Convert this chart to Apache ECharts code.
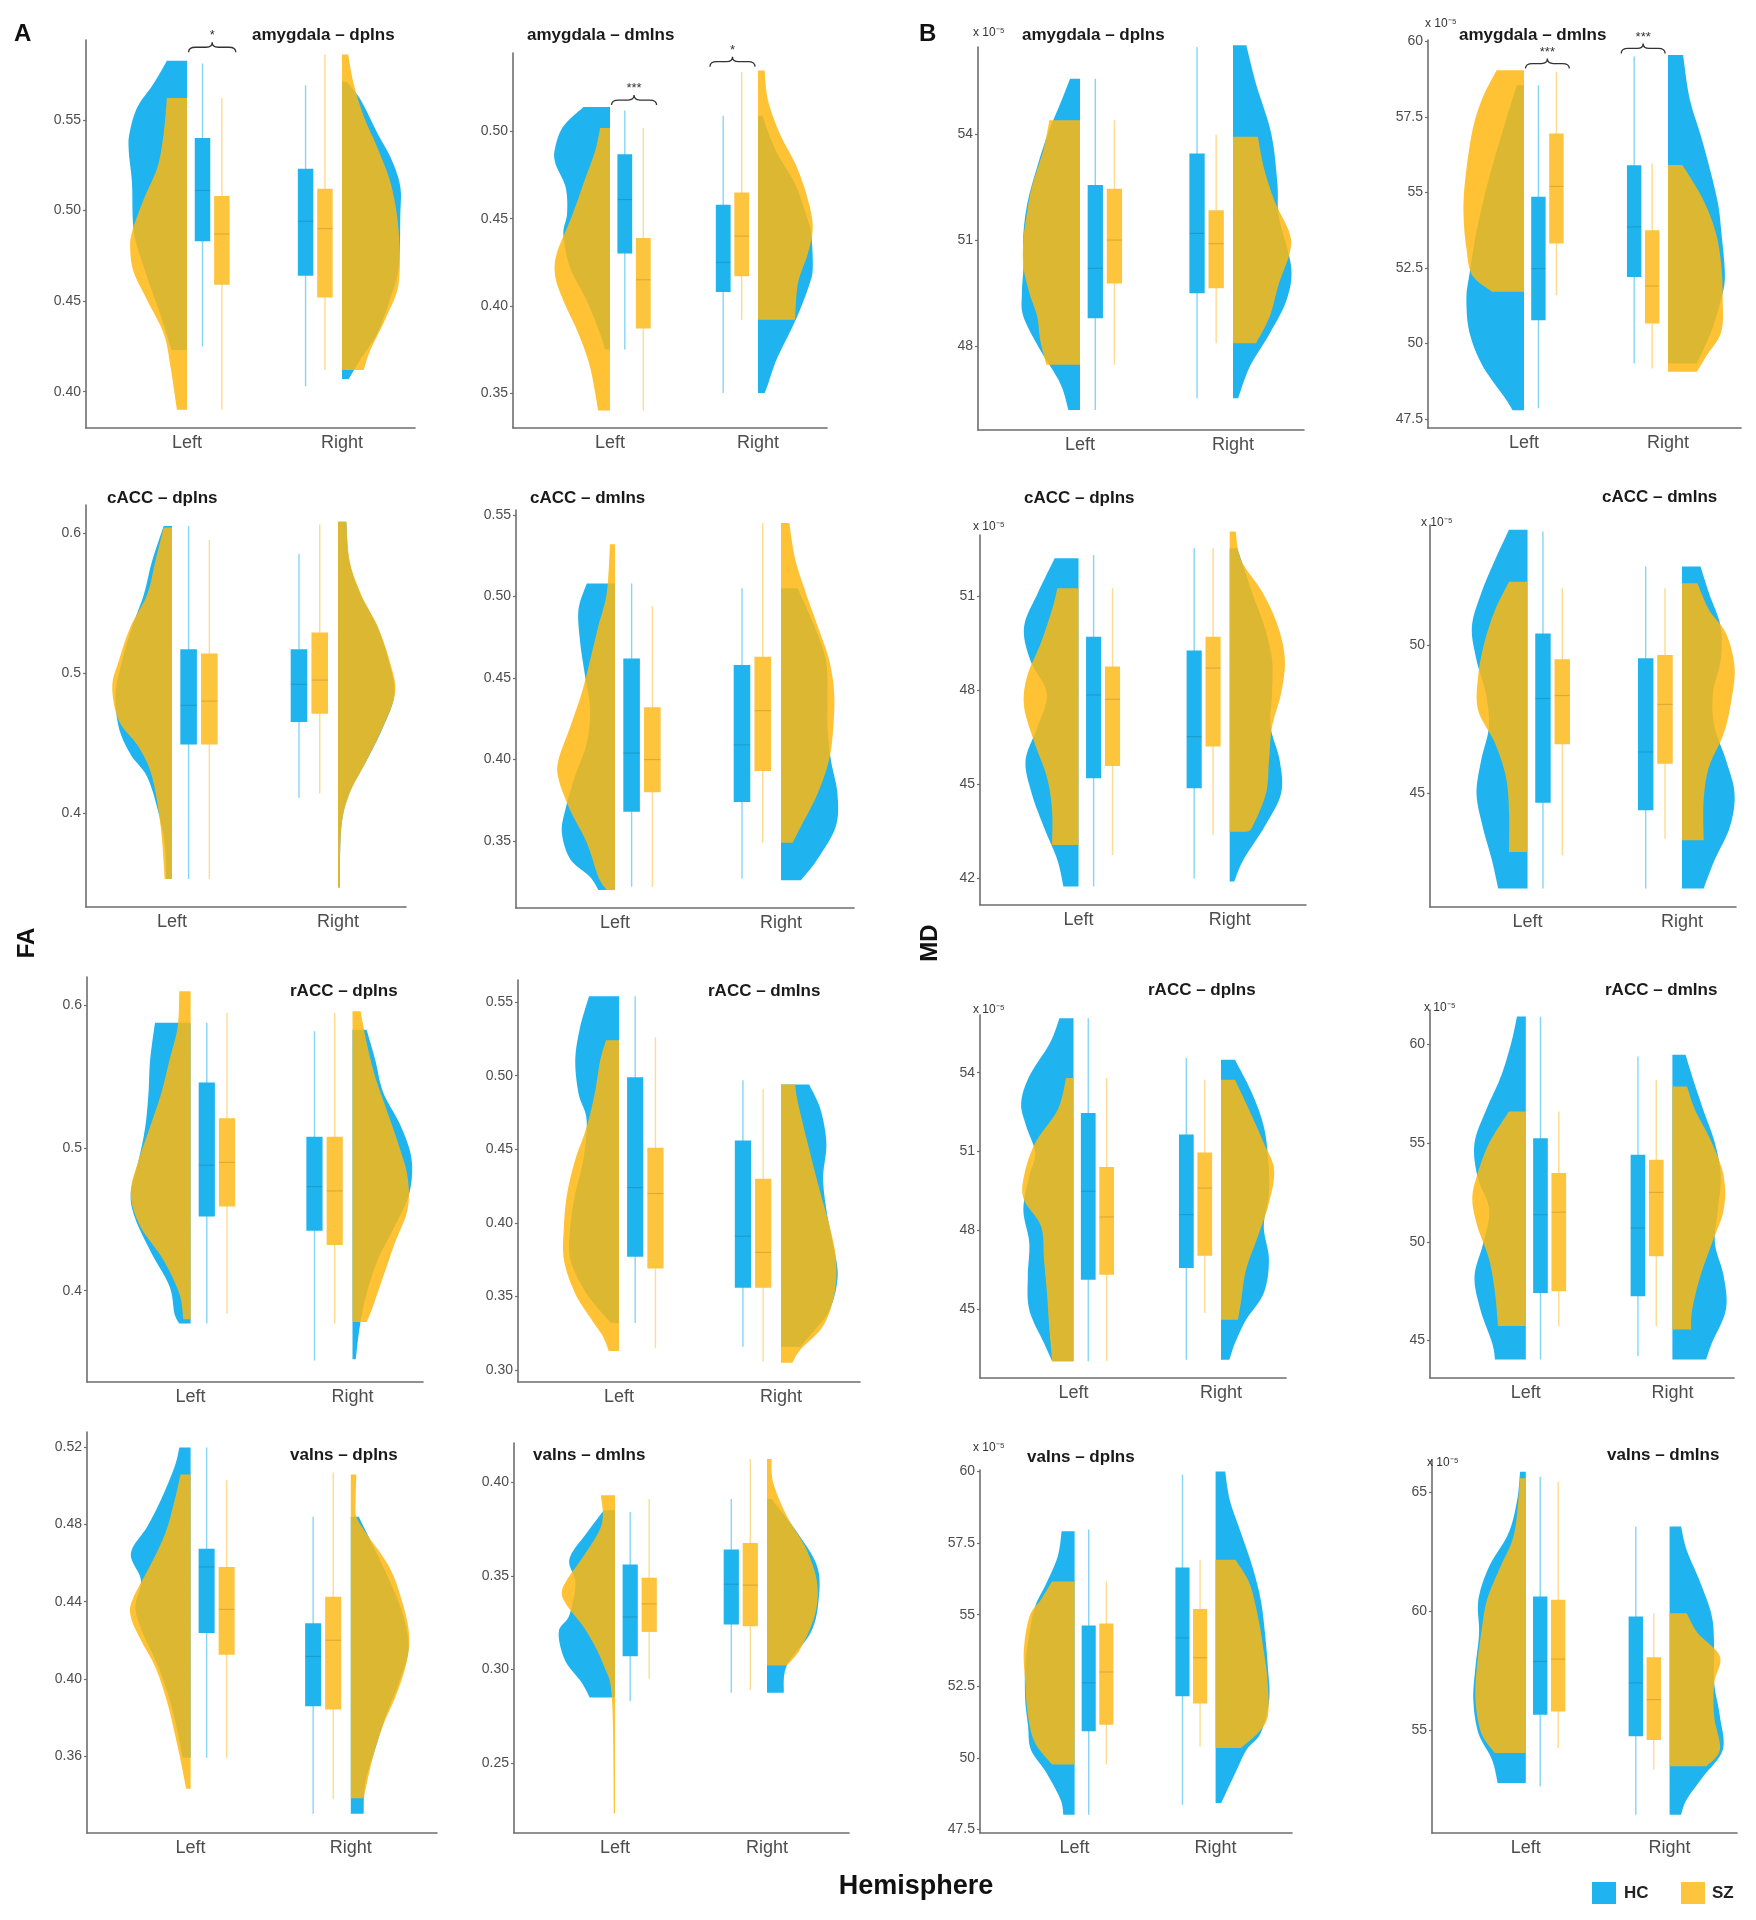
<!DOCTYPE html>
<html><head><meta charset="utf-8">
<script src="https://cdn.jsdelivr.net/npm/echarts@6/dist/echarts.min.js"></script>
<style>html,body{margin:0;padding:0;background:#fff}#chart{width:1756px;height:1920px}</style>
</head><body><div id="chart"></div>
<script>
// ---------------- DATA ----------------
const categories = ['Left', 'Right'];
const groups = ['HC', 'SZ'];
const measureLabels = ['FA', 'MD'];
const xAxisTitle = 'Hemisphere';
const mdMultiplier = 'x 10\u207B\u2075';
const panelTitles = ['amygdala – dpIns','amygdala – dmIns','amygdala – dpIns','amygdala – dmIns',
  'cACC – dpIns','cACC – dmIns','cACC – dpIns','cACC – dmIns',
  'rACC – dpIns','rACC – dmIns','rACC – dpIns','rACC – dmIns',
  'vaIns – dpIns','vaIns – dmIns','vaIns – dpIns','vaIns – dmIns'];

// y tick values / labels
const ticksFA_amyDp = [0.40,0.45,0.50,0.55];      const labelsFA_amyDp = ['0.40','0.45','0.50','0.55'];
const ticksFA_amyDm = [0.35,0.40,0.45,0.50];      const labelsFA_amyDm = ['0.35','0.40','0.45','0.50'];
const ticksMD_amyDp = [48,51,54];                 const labelsMD_amyDp = ['48','51','54'];
const ticksMD_amyDm = [47.5,50,52.5,55,57.5,60];  const labelsMD_amyDm = ['47.5','50','52.5','55','57.5','60'];
const ticksFA_cAccDp = [0.4,0.5,0.6];             const labelsFA_cAccDp = ['0.4','0.5','0.6'];
const ticksFA_cAccDm = [0.35,0.40,0.45,0.50,0.55];const labelsFA_cAccDm = ['0.35','0.40','0.45','0.50','0.55'];
const ticksMD_cAccDp = [42,45,48,51];             const labelsMD_cAccDp = ['42','45','48','51'];
const ticksMD_cAccDm = [45,50];                   const labelsMD_cAccDm = ['45','50'];
const ticksFA_rAccDp = [0.4,0.5,0.6];             const labelsFA_rAccDp = ['0.4','0.5','0.6'];
const ticksFA_rAccDm = [0.30,0.35,0.40,0.45,0.50,0.55]; const labelsFA_rAccDm = ['0.30','0.35','0.40','0.45','0.50','0.55'];
const ticksMD_rAccDp = [45,48,51,54];             const labelsMD_rAccDp = ['45','48','51','54'];
const ticksMD_rAccDm = [45,50,55,60];             const labelsMD_rAccDm = ['45','50','55','60'];
const ticksFA_vaDp = [0.36,0.40,0.44,0.48,0.52];  const labelsFA_vaDp = ['0.36','0.40','0.44','0.48','0.52'];
const ticksFA_vaDm = [0.25,0.30,0.35,0.40];       const labelsFA_vaDm = ['0.25','0.30','0.35','0.40'];
const ticksMD_vaDp = [47.5,50,52.5,55,57.5,60];   const labelsMD_vaDp = ['47.5','50','52.5','55','57.5','60'];
const ticksMD_vaDm = [55,60,65];                  const labelsMD_vaDm = ['55','60','65'];

// box stats [min, q1, median, q3, max]; order: Left-HC, Left-SZ, Right-HC, Right-SZ
const boxFA_amyDp = [[0.425,0.483,0.511,0.540,0.581],[0.390,0.459,0.487,0.508,0.562],[0.403,0.464,0.494,0.523,0.569],[0.412,0.452,0.490,0.512,0.586]];
const boxFA_amyDm = [[0.375,0.430,0.461,0.487,0.512],[0.340,0.387,0.415,0.439,0.502],[0.350,0.408,0.425,0.458,0.509],[0.392,0.417,0.440,0.465,0.534]];
const boxMD_amyDp = [[46.18,48.78,50.2,52.56,55.58],[47.46,49.77,51.0,52.46,54.4],[46.51,49.49,51.19,53.46,56.48],[48.07,49.63,50.9,51.85,54.0]];
const boxMD_amyDm = [[47.85,50.77,52.48,54.86,58.55],[51.6,53.31,55.2,56.95,59.0],[49.34,52.2,53.86,55.9,59.5],[49.17,50.66,51.9,53.75,55.96]];
const boxFA_cAccDp = [[0.353,0.449,0.477,0.517,0.605],[0.353,0.449,0.480,0.514,0.595],[0.411,0.465,0.492,0.517,0.585],[0.414,0.471,0.495,0.529,0.606]];
const boxFA_cAccDm = [[0.322,0.368,0.404,0.462,0.508],[0.322,0.380,0.400,0.432,0.494],[0.327,0.374,0.409,0.458,0.505],[0.349,0.393,0.430,0.463,0.545]];
const boxMD_cAccDp = [[41.72,45.18,47.84,49.7,52.31],[42.73,45.57,47.7,48.75,51.25],[41.98,44.86,46.51,49.26,52.53],[43.37,46.19,48.7,49.7,52.53]];
const boxMD_cAccDm = [[41.8,44.69,48.2,50.39,53.82],[42.92,46.66,48.3,49.52,51.91],[41.8,44.44,46.4,49.55,52.64],[43.48,46.0,48.0,49.66,51.91]];
const boxFA_rAccDp = [[0.377,0.452,0.488,0.546,0.588],[0.384,0.459,0.490,0.521,0.595],[0.351,0.442,0.473,0.508,0.582],[0.377,0.432,0.470,0.508,0.595]];
const boxFA_rAccDm = [[0.332,0.377,0.424,0.499,0.554],[0.315,0.369,0.420,0.451,0.526],[0.316,0.356,0.391,0.456,0.497],[0.306,0.356,0.380,0.430,0.491]];
const boxMD_rAccDp = [[43.0,46.11,49.48,52.46,56.08],[43.0,46.3,48.5,50.4,53.8],[43.06,46.55,48.59,51.64,54.56],[44.84,47.02,49.6,50.96,53.73]];
const boxMD_rAccDm = [[44.04,47.41,51.37,55.25,61.4],[45.73,47.5,51.5,53.48,56.6],[44.21,47.24,50.7,54.41,59.38],[45.73,49.27,52.5,54.16,58.2]];
const boxFA_vaDp = [[0.359,0.4237,0.458,0.4675,0.520],[0.359,0.4125,0.436,0.458,0.503],[0.330,0.3858,0.4116,0.4288,0.484],[0.3376,0.384,0.420,0.4426,0.507]];
const boxFA_vaDm = [[0.283,0.307,0.328,0.356,0.384],[0.295,0.320,0.335,0.349,0.391],[0.2875,0.324,0.3455,0.364,0.391],[0.289,0.323,0.345,0.3675,0.4125]];
const boxMD_vaDp = [[48.02,50.93,52.62,54.62,57.97],[49.77,51.16,53.0,54.69,56.16],[48.37,52.15,54.19,56.65,59.88],[50.4,51.9,53.5,55.2,56.92]];
const boxMD_vaDm = [[52.66,55.66,57.9,60.63,65.66],[54.27,55.8,58.0,60.49,65.45],[51.47,54.76,57.0,59.79,63.57],[53.36,54.6,56.3,58.08,59.93]];

// half-violin density profiles: [value, half-width (in category units)], top to bottom
const violinFA_amyDp = [
 [[0.5825,0.13],[0.570,0.215],[0.557,0.32],[0.543,0.37],[0.533,0.376],[0.515,0.355],[0.489,0.344],[0.469,0.28],[0.442,0.17],[0.423,0.10]],
 [[0.562,0.13],[0.543,0.15],[0.524,0.19],[0.506,0.28],[0.488,0.355],[0.478,0.366],[0.466,0.344],[0.451,0.26],[0.432,0.15],[0.414,0.107],[0.390,0.065]],
 [[0.571,0.03],[0.561,0.12],[0.543,0.226],[0.528,0.32],[0.513,0.376],[0.497,0.376],[0.469,0.366],[0.451,0.31],[0.432,0.226],[0.418,0.12],[0.407,0.043]],
 [[0.586,0.04],[0.570,0.075],[0.552,0.14],[0.533,0.236],[0.513,0.32],[0.488,0.366],[0.460,0.366],[0.442,0.29],[0.423,0.183],[0.412,0.14]]];
const violinFA_amyDm = [
 [[0.514,0.18],[0.503,0.315],[0.491,0.37],[0.482,0.37],[0.468,0.30],[0.453,0.29],[0.441,0.315],[0.422,0.27],[0.403,0.157],[0.384,0.067],[0.375,0.034]],
 [[0.502,0.067],[0.489,0.10],[0.470,0.18],[0.451,0.26],[0.430,0.36],[0.417,0.37],[0.403,0.315],[0.384,0.213],[0.365,0.135],[0.340,0.08]],
 [[0.509,0.03],[0.489,0.12],[0.470,0.25],[0.451,0.33],[0.441,0.36],[0.422,0.37],[0.413,0.35],[0.397,0.28],[0.384,0.21],[0.369,0.124],[0.355,0.067],[0.350,0.045]],
 [[0.535,0.045],[0.518,0.067],[0.499,0.146],[0.480,0.26],[0.461,0.337],[0.445,0.37],[0.430,0.337],[0.413,0.27],[0.392,0.25]]];
const violinMD_amyDp = [
 [[55.58,0.065],[54.97,0.12],[54.02,0.21],[53.08,0.28],[52.13,0.34],[51.19,0.37],[50.24,0.37],[49.49,0.38],[48.83,0.37],[47.88,0.26],[46.94,0.13],[46.18,0.076]],
 [[54.40,0.2],[53.55,0.24],[52.51,0.315],[51.66,0.35],[51.0,0.37],[50.24,0.37],[49.49,0.33],[48.83,0.28],[48.16,0.26],[47.46,0.22]],
 [[56.53,0.087],[55.44,0.15],[54.02,0.25],[52.61,0.29],[51.66,0.30],[50.24,0.38],[49.30,0.35],[48.35,0.24],[47.41,0.11],[46.51,0.033]],
 [[53.93,0.163],[53.08,0.2],[52.13,0.27],[51.19,0.37],[50.62,0.37],[49.77,0.30],[48.83,0.24],[48.07,0.15]]];
const violinMD_amyDm = [
 [[58.55,0.05],[57.01,0.15],[55.35,0.25],[53.70,0.33],[52.26,0.38],[51.49,0.40],[50.39,0.38],[49.28,0.29],[48.18,0.13],[47.79,0.08]],
 [[59.05,0.19],[58.11,0.29],[57.01,0.36],[55.35,0.41],[54.25,0.42],[53.15,0.40],[52.26,0.36],[51.71,0.22]],
 [[59.55,0.105],[58.11,0.15],[56.68,0.24],[54.80,0.34],[53.70,0.37],[52.26,0.395],[51.49,0.37],[50.39,0.30],[49.34,0.2]],
 [[55.91,0.10],[54.80,0.24],[53.70,0.33],[52.59,0.37],[51.49,0.38],[50.39,0.37],[49.61,0.27],[49.06,0.2]]];
const violinFA_cAccDp = [
 [[0.605,0.05],[0.580,0.12],[0.556,0.17],[0.533,0.24],[0.509,0.30],[0.485,0.34],[0.461,0.32],[0.442,0.25],[0.426,0.15],[0.402,0.085],[0.378,0.044],[0.353,0.034]],
 [[0.604,0.05],[0.580,0.10],[0.556,0.15],[0.533,0.25],[0.509,0.32],[0.490,0.36],[0.466,0.32],[0.447,0.20],[0.426,0.12],[0.390,0.068],[0.353,0.044]],
 [[0.608,0.05],[0.580,0.068],[0.556,0.136],[0.533,0.237],[0.509,0.305],[0.485,0.34],[0.461,0.27],[0.437,0.17],[0.414,0.068],[0.390,0.02],[0.347,0.01]],
 [[0.608,0.05],[0.580,0.07],[0.556,0.14],[0.533,0.24],[0.509,0.31],[0.487,0.345],[0.464,0.28],[0.437,0.17],[0.414,0.07],[0.390,0.02],[0.347,0.01]]];
const violinFA_cAccDm = [
 [[0.508,0.17],[0.492,0.22],[0.472,0.21],[0.451,0.18],[0.431,0.15],[0.410,0.17],[0.390,0.24],[0.369,0.30],[0.355,0.32],[0.339,0.27],[0.328,0.15],[0.320,0.10]],
 [[0.532,0.03],[0.502,0.05],[0.482,0.10],[0.461,0.15],[0.441,0.20],[0.420,0.27],[0.400,0.34],[0.388,0.34],[0.369,0.27],[0.349,0.17],[0.328,0.10],[0.320,0.05]],
 [[0.505,0.10],[0.482,0.20],[0.461,0.27],[0.441,0.28],[0.420,0.28],[0.400,0.30],[0.379,0.34],[0.359,0.33],[0.339,0.22],[0.326,0.12]],
 [[0.545,0.05],[0.523,0.085],[0.502,0.15],[0.482,0.22],[0.461,0.29],[0.441,0.32],[0.420,0.315],[0.400,0.29],[0.379,0.22],[0.359,0.12],[0.349,0.07]]];
const violinMD_cAccDp = [
 [[52.21,0.157],[51.09,0.27],[50.02,0.36],[48.96,0.32],[47.89,0.21],[46.83,0.27],[45.76,0.35],[44.70,0.31],[43.63,0.23],[42.57,0.14],[41.72,0.10]],
 [[51.25,0.14],[50.56,0.175],[49.49,0.25],[48.43,0.34],[47.47,0.36],[46.30,0.29],[45.23,0.21],[44.17,0.175],[43.05,0.175]],
 [[52.53,0.05],[51.09,0.15],[50.02,0.23],[48.96,0.28],[47.89,0.28],[46.83,0.27],[45.76,0.33],[44.70,0.34],[43.63,0.23],[42.57,0.09],[41.88,0.03]],
 [[53.06,0.04],[52.15,0.075],[51.09,0.22],[50.02,0.32],[48.96,0.365],[47.89,0.34],[46.83,0.28],[45.76,0.26],[44.70,0.24],[43.63,0.15],[43.47,0.11]]];
const violinMD_cAccDm = [
 [[53.88,0.12],[52.87,0.21],[51.74,0.30],[50.62,0.36],[49.49,0.33],[48.37,0.27],[47.25,0.25],[46.12,0.30],[45.0,0.33],[43.88,0.29],[42.75,0.23],[41.80,0.19]],
 [[52.13,0.12],[51.18,0.21],[50.06,0.28],[48.93,0.32],[47.81,0.32],[46.69,0.21],[45.56,0.14],[44.44,0.12],[43.03,0.12]],
 [[52.64,0.12],[51.74,0.175],[50.62,0.25],[49.49,0.25],[48.37,0.20],[47.25,0.21],[46.12,0.285],[45.0,0.34],[43.88,0.31],[42.75,0.21],[41.80,0.14]],
 [[52.08,0.10],[51.18,0.175],[50.39,0.285],[49.27,0.34],[48.15,0.32],[47.02,0.27],[45.90,0.175],[44.78,0.14],[43.43,0.14]]];
const violinFA_rAccDp = [
 [[0.588,0.22],[0.562,0.25],[0.539,0.26],[0.515,0.28],[0.492,0.32],[0.468,0.37],[0.450,0.34],[0.426,0.24],[0.403,0.13],[0.384,0.10],[0.377,0.07]],
 [[0.610,0.07],[0.585,0.08],[0.562,0.13],[0.539,0.18],[0.515,0.25],[0.492,0.32],[0.468,0.37],[0.445,0.31],[0.422,0.17],[0.398,0.07],[0.380,0.045]],
 [[0.583,0.087],[0.562,0.14],[0.539,0.19],[0.515,0.30],[0.492,0.365],[0.468,0.35],[0.445,0.26],[0.422,0.157],[0.398,0.087],[0.375,0.045],[0.352,0.02]],
 [[0.596,0.05],[0.574,0.087],[0.550,0.14],[0.527,0.21],[0.504,0.28],[0.480,0.34],[0.457,0.34],[0.433,0.26],[0.410,0.19],[0.387,0.12],[0.378,0.087]]];
const violinFA_rAccDm = [
 [[0.554,0.185],[0.533,0.24],[0.511,0.27],[0.488,0.25],[0.470,0.20],[0.443,0.22],[0.420,0.27],[0.398,0.30],[0.375,0.30],[0.352,0.20],[0.332,0.05]],
 [[0.524,0.08],[0.511,0.115],[0.488,0.15],[0.465,0.20],[0.443,0.27],[0.420,0.32],[0.398,0.34],[0.375,0.34],[0.352,0.27],[0.334,0.167],[0.323,0.10],[0.313,0.063]],
 [[0.494,0.174],[0.477,0.244],[0.454,0.28],[0.431,0.26],[0.409,0.28],[0.386,0.32],[0.364,0.35],[0.341,0.30],[0.325,0.19],[0.316,0.12]],
 [[0.494,0.087],[0.484,0.10],[0.465,0.14],[0.443,0.19],[0.420,0.244],[0.398,0.30],[0.375,0.34],[0.352,0.33],[0.330,0.26],[0.314,0.12],[0.305,0.07]]];
const violinMD_rAccDp = [
 [[56.08,0.095],[55.13,0.16],[53.86,0.30],[52.84,0.355],[51.95,0.32],[50.94,0.26],[50.05,0.30],[48.78,0.34],[47.51,0.30],[46.24,0.31],[44.96,0.30],[43.69,0.20],[43.0,0.145]],
 [[53.80,0.05],[52.59,0.107],[51.32,0.26],[50.05,0.336],[49.16,0.336],[48.14,0.22],[46.87,0.20],[45.60,0.18],[44.33,0.165],[43.0,0.145]],
 [[54.49,0.095],[53.22,0.21],[51.95,0.29],[50.68,0.32],[49.41,0.325],[48.14,0.29],[46.87,0.325],[45.60,0.29],[44.58,0.17],[43.69,0.095],[43.06,0.057]],
 [[53.73,0.095],[52.59,0.19],[51.32,0.29],[50.30,0.36],[49.03,0.325],[47.76,0.25],[46.49,0.17],[45.22,0.134],[44.58,0.115]]];
const violinMD_rAccDm = [
 [[61.41,0.06],[60.06,0.10],[58.37,0.17],[56.69,0.27],[55.0,0.35],[53.31,0.33],[51.63,0.25],[49.94,0.29],[48.25,0.35],[46.57,0.31],[44.88,0.23],[44.04,0.21]],
 [[56.60,0.115],[55.0,0.25],[53.31,0.335],[52.13,0.365],[50.78,0.33],[49.10,0.25],[47.41,0.21],[45.73,0.19]],
 [[59.47,0.09],[58.37,0.135],[56.69,0.21],[55.0,0.29],[53.31,0.33],[51.63,0.31],[49.94,0.29],[48.25,0.35],[46.57,0.365],[44.88,0.27],[44.04,0.23]],
 [[57.87,0.10],[56.69,0.154],[55.0,0.27],[53.31,0.35],[51.63,0.35],[49.94,0.27],[48.25,0.19],[46.57,0.135],[45.56,0.127]]];
const violinFA_vaDp = [
 [[0.520,0.07],[0.510,0.10],[0.4925,0.187],[0.479,0.27],[0.465,0.373],[0.451,0.31],[0.437,0.345],[0.424,0.30],[0.406,0.20],[0.389,0.13],[0.372,0.08],[0.359,0.05]],
 [[0.506,0.063],[0.4925,0.10],[0.475,0.16],[0.458,0.257],[0.441,0.363],[0.432,0.373],[0.420,0.31],[0.406,0.22],[0.389,0.15],[0.372,0.10],[0.355,0.056],[0.343,0.028]],
 [[0.484,0.05],[0.467,0.15],[0.4495,0.25],[0.432,0.33],[0.415,0.36],[0.398,0.30],[0.381,0.22],[0.363,0.15],[0.346,0.09],[0.330,0.08]],
 [[0.506,0.035],[0.4925,0.03],[0.484,0.035],[0.475,0.10],[0.458,0.24],[0.441,0.317],[0.424,0.363],[0.410,0.352],[0.393,0.29],[0.3755,0.20],[0.358,0.134],[0.338,0.08]]];
const violinFA_vaDm = [
 [[0.385,0.074],[0.373,0.185],[0.359,0.30],[0.346,0.26],[0.329,0.30],[0.320,0.37],[0.305,0.33],[0.293,0.22],[0.285,0.167]],
 [[0.393,0.093],[0.382,0.08],[0.373,0.11],[0.359,0.22],[0.348,0.315],[0.341,0.35],[0.334,0.315],[0.320,0.185],[0.302,0.074],[0.284,0.02],[0.223,0.008]],
 [[0.391,0.03],[0.373,0.20],[0.355,0.33],[0.3375,0.34],[0.320,0.29],[0.302,0.13],[0.2875,0.11]],
 [[0.4125,0.03],[0.400,0.04],[0.382,0.13],[0.364,0.26],[0.346,0.33],[0.329,0.315],[0.311,0.22],[0.302,0.13]]];
const violinMD_vaDp = [
 [[57.91,0.092],[57.03,0.12],[56.10,0.20],[55.29,0.28],[54.36,0.32],[53.20,0.35],[52.03,0.35],[51.10,0.33],[50.29,0.31],[49.48,0.20],[48.55,0.10],[48.02,0.08]],
 [[56.16,0.16],[55.52,0.24],[54.94,0.32],[53.78,0.36],[52.62,0.35],[51.45,0.33],[50.52,0.28],[49.77,0.16]],
 [[60.0,0.068],[59.01,0.10],[57.85,0.18],[56.69,0.26],[55.52,0.32],[54.36,0.35],[53.20,0.37],[52.03,0.38],[50.87,0.32],[50.29,0.22],[49.48,0.14],[48.43,0.04]],
 [[56.92,0.14],[56.10,0.24],[54.94,0.30],[53.78,0.34],[52.62,0.37],[51.45,0.37],[50.87,0.30],[50.35,0.18]]];
const violinMD_vaDm = [
 [[65.87,0.04],[64.69,0.06],[63.29,0.12],[61.89,0.255],[60.49,0.33],[59.09,0.325],[57.69,0.35],[56.29,0.365],[54.90,0.33],[53.78,0.235],[52.80,0.196]],
 [[65.59,0.04],[63.29,0.08],[61.89,0.176],[60.49,0.27],[59.09,0.31],[57.69,0.34],[56.29,0.35],[54.90,0.31],[54.06,0.216]],
 [[63.57,0.08],[62.59,0.118],[61.19,0.215],[59.79,0.294],[58.39,0.31],[56.99,0.31],[55.59,0.35],[54.20,0.37],[53.08,0.235],[52.10,0.118],[51.47,0.08]],
 [[59.93,0.118],[59.09,0.196],[58.11,0.35],[56.99,0.31],[55.59,0.31],[54.20,0.35],[53.50,0.255]]];

// significance brackets: [hemisphere index, value, label]
const sigFA_amyDp = [[0, 0.590, '*']];
const sigFA_amyDm = [[0, 0.518, '***'], [1, 0.540, '*']];
const sigMD_amyDm = [[0, 59.27, '***'], [1, 59.77, '***']];
const sigNone = [];

// ---------------- LAYOUT (pixels / axis extents) ----------------
// [gridX0, gridX1, gridY0, gridY1, leftCatPx, rightCatPx, yMin, yMax, titleX, titleY, multX, multY]
const layout = [
 [86,415,40,428,187,342,0.380,0.594,252,35],
 [513,827,53,428,610,758,0.330,0.545,527,35],
 [978,1304,47,430,1080,1233,45.61,56.48,1022,35,973,33],
 [1428,1741,40,428,1524,1668,47.2,60.05,1459,35,1425,24],
 [86,406,505,907,172,338,0.333,0.62,107,498],
 [516,854,510,908,615,781,0.309,0.553,530,498],
 [980,1306,535,905,1078.5,1229.7,41.13,52.95,1024,498,973,527],
 [1430,1736,525,907,1527.5,1682,41.18,54.04,1602,497,1421,523],
 [87,423,977,1382,190.6,352.5,0.336,0.62,290,991],
 [518,860,980,1382,619,781,0.292,0.565,708,991],
 [980,1286,1015,1378,1073.5,1221,42.36,56.2,1148,990,973,1010],
 [1430,1734,1010,1378,1525.8,1672.4,43.1,61.74,1605,990,1424,1008],
 [87,437,1432,1833,190.6,350.8,0.320,0.528,290,1455],
 [514,849,1443,1833,615,767,0.2125,0.421,533,1455],
 [980,1292,1470,1833,1074.6,1215.6,47.38,60.05,1027,1457,973,1448],
 [1432,1737,1460,1833,1525.8,1669.6,50.7,66.36,1607,1455,1427,1463]
];

const panels = [
 {t: ticksFA_amyDp, l: labelsFA_amyDp, b: boxFA_amyDp, v: violinFA_amyDp, s: sigFA_amyDp},
 {t: ticksFA_amyDm, l: labelsFA_amyDm, b: boxFA_amyDm, v: violinFA_amyDm, s: sigFA_amyDm},
 {t: ticksMD_amyDp, l: labelsMD_amyDp, b: boxMD_amyDp, v: violinMD_amyDp, s: sigNone},
 {t: ticksMD_amyDm, l: labelsMD_amyDm, b: boxMD_amyDm, v: violinMD_amyDm, s: sigMD_amyDm},
 {t: ticksFA_cAccDp, l: labelsFA_cAccDp, b: boxFA_cAccDp, v: violinFA_cAccDp, s: sigNone},
 {t: ticksFA_cAccDm, l: labelsFA_cAccDm, b: boxFA_cAccDm, v: violinFA_cAccDm, s: sigNone},
 {t: ticksMD_cAccDp, l: labelsMD_cAccDp, b: boxMD_cAccDp, v: violinMD_cAccDp, s: sigNone},
 {t: ticksMD_cAccDm, l: labelsMD_cAccDm, b: boxMD_cAccDm, v: violinMD_cAccDm, s: sigNone},
 {t: ticksFA_rAccDp, l: labelsFA_rAccDp, b: boxFA_rAccDp, v: violinFA_rAccDp, s: sigNone},
 {t: ticksFA_rAccDm, l: labelsFA_rAccDm, b: boxFA_rAccDm, v: violinFA_rAccDm, s: sigNone},
 {t: ticksMD_rAccDp, l: labelsMD_rAccDp, b: boxMD_rAccDp, v: violinMD_rAccDp, s: sigNone},
 {t: ticksMD_rAccDm, l: labelsMD_rAccDm, b: boxMD_rAccDm, v: violinMD_rAccDm, s: sigNone},
 {t: ticksFA_vaDp, l: labelsFA_vaDp, b: boxFA_vaDp, v: violinFA_vaDp, s: sigNone},
 {t: ticksFA_vaDm, l: labelsFA_vaDm, b: boxFA_vaDm, v: violinFA_vaDm, s: sigNone},
 {t: ticksMD_vaDp, l: labelsMD_vaDp, b: boxMD_vaDp, v: violinMD_vaDp, s: sigNone},
 {t: ticksMD_vaDm, l: labelsMD_vaDm, b: boxMD_vaDm, v: violinMD_vaDm, s: sigNone}
];

// ---------------- STYLE ----------------
const FONT = '"Liberation Sans", Arial, Helvetica, sans-serif';
const HC_COLOR = '#1FB4EF';
const SZ_FILL = 'rgba(254,183,16,0.85)';
const BOX_COLOR = ['#20B4EE', '#FDC43E'];
const WHISKER_COLOR = ['rgba(31,180,239,0.55)', 'rgba(253,190,50,0.55)'];
const AXIS_COLOR = '#6e6e6e';
const TEXT_GRAY = '#4d4d4d';
const BOX_OFF = [[0.10, 0.225], [-0.235, -0.11]];
const BOX_W = 0.1;

function smoothPts(pts, n) {
  if (pts.length < 3) return pts.slice();
  const out = [];
  for (let i = 0; i < pts.length - 1; i++) {
    const p0 = pts[Math.max(0, i - 1)], p1 = pts[i], p2 = pts[i + 1], p3 = pts[Math.min(pts.length - 1, i + 2)];
    for (let k = 0; k < n; k++) {
      const s = k / n, s2 = s * s, s3 = s2 * s;
      const f = j => 0.5 * (2 * p1[j] + (-p0[j] + p2[j]) * s + (2 * p0[j] - 5 * p1[j] + 4 * p2[j] - p3[j]) * s2 + (-p0[j] + 3 * p1[j] - 3 * p2[j] + p3[j]) * s3);
      out.push([f(0), f(1)]);
    }
  }
  out.push(pts[pts.length - 1]);
  return out;
}

const grids = [], xAxes = [], yAxes = [], series = [], graphics = [];

panels.forEach((p, i) => {
  const L = layout[i];
  const [gx0, gx1, gy0, gy1, lx, rx, ymin, ymax] = L;
  const unit = rx - lx;
  grids.push({left: gx0, top: gy0, width: gx1 - gx0, height: gy1 - gy0, containLabel: false});
  xAxes.push({
    type: 'value', gridIndex: i, min: -(lx - gx0) / unit, max: (gx1 - lx) / unit,
    axisLine: {show: true, onZero: false, lineStyle: {color: AXIS_COLOR, width: 1.6}},
    axisTick: {show: false},
    splitLine: {show: false},
    axisLabel: {customValues: [0, 1], formatter: v => categories[Math.round(v)] || '', color: TEXT_GRAY, fontSize: 18, fontFamily: FONT, margin: 6}
  });
  const ticks = p.t, labels = p.l;
  yAxes.push({
    type: 'value', gridIndex: i, min: ymin, max: ymax,
    axisLine: {show: true, onZero: false, lineStyle: {color: AXIS_COLOR, width: 1.6}},
    axisTick: {show: true, customValues: ticks, length: 3, lineStyle: {color: AXIS_COLOR, width: 1.2}},
    splitLine: {show: false},
    axisLabel: {customValues: ticks, color: TEXT_GRAY, fontSize: 14, fontFamily: FONT, margin: 5,
      formatter: v => { for (let k = 0; k < ticks.length; k++) if (Math.abs(ticks[k] - v) < 1e-9) return labels[k]; return ''; }}
  });

  // violins
  const vio = p.v;
  series.push({
    type: 'custom', xAxisIndex: i, yAxisIndex: i, z: 2, silent: true,
    encode: {x: 0, y: 1},
    data: vio.map((prof, k) => [k < 2 ? 0 : 1, prof[0][0], k]),
    renderItem: (params, api) => {
      const k = api.value(2), pos = api.value(0), dir = pos === 0 ? -1 : 1;
      const prof = vio[k];
      const base = api.coord([pos, 0])[0];
      const outer = prof.map(q => api.coord([pos + dir * q[1], q[0]]));
      let sm = smoothPts(outer, 10).map(q => [dir < 0 ? Math.min(q[0], base) : Math.max(q[0], base), q[1]]);
      const pts = [[base, outer[0][1]]].concat(sm, [[base, outer[outer.length - 1][1]]]);
      return {type: 'polygon', shape: {points: pts}, style: {fill: k % 2 === 0 ? HC_COLOR : SZ_FILL}};
    }
  });

  // boxes
  const bx = p.b;
  series.push({
    type: 'custom', xAxisIndex: i, yAxisIndex: i, z: 3, silent: true,
    encode: {x: 0, y: [1, 2, 3, 4, 5]},
    data: bx.map((s, k) => [BOX_OFF[k < 2 ? 0 : 1][k % 2] + (k < 2 ? 0 : 1), s[0], s[1], s[2], s[3], s[4], k % 2]),
    renderItem: (params, api) => {
      const x = api.value(0), g = api.value(6), hw = BOX_W / 2;
      const pMin = api.coord([x, api.value(1)]), pMax = api.coord([x, api.value(5)]);
      const pQ1 = api.coord([x - hw, api.value(2)]), pQ3 = api.coord([x + hw, api.value(4)]);
      const m1 = api.coord([x - hw, api.value(3)]), m2 = api.coord([x + hw, api.value(3)]);
      return {type: 'group', children: [
        {type: 'line', shape: {x1: pMin[0], y1: pMin[1], x2: pMax[0], y2: pMax[1]}, style: {stroke: WHISKER_COLOR[g], lineWidth: 1.4}},
        {type: 'rect', shape: {x: pQ1[0], y: pQ3[1], width: pQ3[0] - pQ1[0], height: pQ1[1] - pQ3[1]}, style: {fill: BOX_COLOR[g]}},
        {type: 'line', shape: {x1: m1[0], y1: m1[1], x2: m2[0], y2: m2[1]}, style: {stroke: 'rgba(0,0,0,0.13)', lineWidth: 1.2}}
      ]};
    }
  });

  // significance brackets
  if (p.s.length) {
    const sg = p.s;
    series.push({
      type: 'custom', xAxisIndex: i, yAxisIndex: i, z: 4, silent: true,
      encode: {x: 0, y: 1},
      data: sg.map((s, k) => [s[0] === 0 ? 0.01 : 1 - 0.325, s[1], s[0] === 0 ? 0.315 : 1 - 0.02, k]),
      renderItem: (params, api) => {
        const a = api.coord([api.value(0), api.value(1)]), b = api.coord([api.value(2), api.value(1)]);
        const y = a[1], x1 = a[0], x2 = b[0], cx = (x1 + x2) / 2;
        const d = `M${x1},${y + 5} Q${x1},${y} ${x1 + 7},${y} L${cx - 6},${y} Q${cx},${y} ${cx},${y - 5} Q${cx},${y} ${cx + 6},${y} L${x2 - 7},${y} Q${x2},${y} ${x2},${y + 5}`;
        return {type: 'group', children: [
          {type: 'path', shape: {pathData: d}, style: {stroke: '#333', lineWidth: 1.3, fill: null}},
          {type: 'text', x: cx, y: y - 5, style: {text: sg[api.value(3)][2], fill: '#333', font: '13px ' + FONT, align: 'center', verticalAlign: 'bottom'}}
        ]};
      }
    });
  }

  // titles
  graphics.push({type: 'text', x: L[8], y: L[9], z: 10, style: {text: panelTitles[i], fill: '#1a1a1a', font: 'bold 17px ' + FONT, align: 'left', verticalAlign: 'middle'}});
  if (L.length > 10) {
    graphics.push({type: 'text', x: L[10], y: L[11], z: 10, style: {text: mdMultiplier, fill: '#333', font: '12px ' + FONT, align: 'left', verticalAlign: 'middle'}});
  }
});

// panel letters, axis titles, legend
graphics.push({type: 'text', x: 14, y: 34, style: {text: 'A', fill: '#111', font: 'bold 24px ' + FONT, verticalAlign: 'middle'}});
graphics.push({type: 'text', x: 919, y: 34, style: {text: 'B', fill: '#111', font: 'bold 24px ' + FONT, verticalAlign: 'middle'}});
graphics.push({type: 'text', x: 27, y: 943, rotation: Math.PI / 2, style: {text: measureLabels[0], fill: '#111', font: 'bold 24px ' + FONT, align: 'center', verticalAlign: 'middle'}});
graphics.push({type: 'text', x: 930, y: 943, rotation: Math.PI / 2, style: {text: measureLabels[1], fill: '#111', font: 'bold 24px ' + FONT, align: 'center', verticalAlign: 'middle'}});
graphics.push({type: 'text', x: 916, y: 1887, style: {text: xAxisTitle, fill: '#111', font: 'bold 27px ' + FONT, align: 'center', verticalAlign: 'middle'}});
graphics.push({type: 'rect', shape: {x: 1592, y: 1882, width: 24, height: 22}, style: {fill: HC_COLOR}});
graphics.push({type: 'text', x: 1624, y: 1893, style: {text: groups[0], fill: '#222', font: 'bold 17px ' + FONT, verticalAlign: 'middle'}});
graphics.push({type: 'rect', shape: {x: 1681, y: 1882, width: 24, height: 22}, style: {fill: '#FDC43E'}});
graphics.push({type: 'text', x: 1712, y: 1893, style: {text: groups[1], fill: '#222', font: 'bold 17px ' + FONT, verticalAlign: 'middle'}});

const chart = echarts.init(document.getElementById('chart'), null, {renderer: 'canvas'});
chart.setOption({
  backgroundColor: '#fff',
  animation: false,
  grid: grids, xAxis: xAxes, yAxis: yAxes, series: series, graphic: graphics
});
</script></body></html>
